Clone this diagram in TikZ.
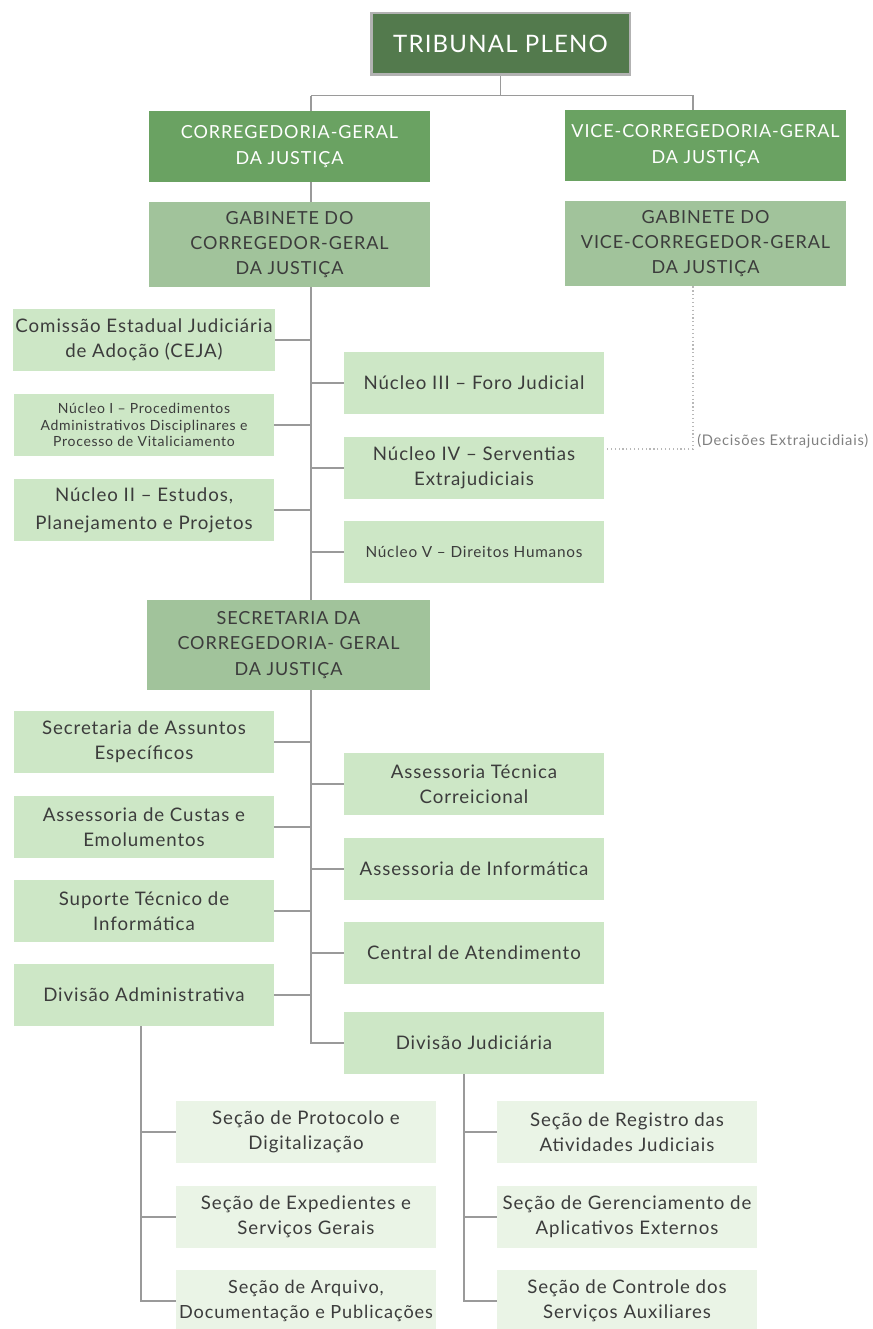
\documentclass[tikz,border=0pt]{standalone}
\usepackage{fontspec}
\setmainfont{Lato}[LetterSpace=5]
\usetikzlibrary{backgrounds}
\definecolor{cdark}{HTML}{537A4D}
\definecolor{cmid}{HTML}{6AA262}
\definecolor{cgab}{HTML}{A1C39B}
\definecolor{clight}{HTML}{CDE7C6}
\definecolor{cpale}{HTML}{EAF4E6}
\definecolor{ctext}{HTML}{3C3C3C}
\definecolor{cline}{HTML}{9A9A9A}
\tikzset{
  every node/.style={inner sep=2pt, text=ctext},
  hbox/.style={fill=cmid, text=white, minimum width=210.75pt, minimum height=53pt, align=center, font=\fontsize{13.5}{19}\selectfont},
  gbox/.style={fill=cgab, text=ctext, minimum width=210.75pt, minimum height=64pt, align=center, font=\fontsize{13.5}{19}\selectfont},
  lbox/.style={fill=clight, minimum width=195pt, minimum height=46.5pt, align=center, font=\fontsize{14}{19}\selectfont},
  pbox/.style={fill=cpale, minimum width=195pt, minimum height=46.5pt, inner xsep=0pt, align=center, font=\fontsize{14}{19}\selectfont},
  conn/.style={draw=cline, line width=0.9pt},
  dotconn/.style={draw=cline!70, line width=0.9pt, dotted}
}
\begin{document}
\begin{tikzpicture}[x=0.75pt, y=-0.75pt]
\useasboundingbox (0,0) rectangle (872,1329);
% top
\node[fill=cdark, draw=black!30, line width=2pt, minimum width=194pt, minimum height=46pt, text=white, font=\fontsize{18}{22}\selectfont] (tp) at (500.5,43.5) {TRIBUNAL PLENO};
\node[hbox] (cg) at (289.5,146.5) {CORREGEDORIA-GERAL\\DA JUSTIÇA};
\node[hbox] (vcg) at (705.5,145.5) {VICE-CORREGEDORIA-GERAL\\DA JUSTIÇA};
\node[gbox] (gcg) at (289.5,244.5) {GABINETE DO\\CORREGEDOR-GERAL\\DA JUSTIÇA};
\node[gbox] (gvc) at (705.5,243.5) {GABINETE DO\\VICE-CORREGEDOR-GERAL\\DA JUSTIÇA};
% nucleos
\node[lbox] (ceja) at (144,340) {Comissão Estadual Judiciária\\de Adoção (CEJA)};
\node[lbox, font=\fontsize{10.5}{12.4}\selectfont] (n1) at (144,425) {Núcleo I – Procedimentos\\Administrativos Disciplinares e\\Processo de Vitaliciamento};
\node[lbox, font=\fontsize{14}{21}\selectfont] (n2) at (144,510) {Núcleo II – Estudos,\\Planejamento e Projetos};
\node[lbox] (n3) at (474,383) {Núcleo III – Foro Judicial};
\node[lbox] (n4) at (474,468) {Núcleo IV – Serventias\\Extrajudiciais};
\node[lbox, font=\fontsize{11.5}{14}\selectfont] (n5) at (474,552) {Núcleo V – Direitos Humanos};
\node[anchor=west, text=black!50, font=\fontsize{11}{12}\selectfont, inner sep=0pt] (dec) at (697,441) {(Decisões Extrajucidiais)};
% secretaria
\node[fill=cgab, minimum width=212.25pt, minimum height=67.5pt, align=center, font=\fontsize{13.5}{19}\selectfont] (sec) at (288.5,645) {SECRETARIA DA\\CORREGEDORIA- GERAL\\DA JUSTIÇA};
\node[lbox] (sae) at (144,742) {Secretaria de Assuntos\\Específicos};
\node[lbox] (ace) at (144,827) {Assessoria de Custas e\\Emolumentos};
\node[lbox] (sti) at (144,911) {Suporte Técnico de\\Informática};
\node[lbox] (da) at (144,995) {Divisão Administrativa};
\node[lbox] (atc) at (474,784) {Assessoria Técnica\\Correicional};
\node[lbox] (ai) at (474,869) {Assessoria de Informática};
\node[lbox] (ca) at (474,953) {Central de Atendimento};
\node[lbox] (dj) at (474,1043) {Divisão Judiciária};
% secoes
\node[pbox] (sp) at (306,1132) {Seção de Protocolo e\\Digitalização};
\node[pbox] (se) at (306,1217) {Seção de Expedientes e\\Serviços Gerais};
\node[pbox, font=\fontsize{13.6}{19}\selectfont] (sa) at (306,1301) {Seção de Arquivo,\\Documentação e Publicações};
\node[pbox] (sr) at (627,1132) {Seção de Registro das\\Atividades Judiciais};
\node[pbox] (sg) at (627,1217) {Seção de Gerenciamento de\\Aplicativos Externos};
\node[pbox] (sc) at (627,1301) {Seção de Controle dos\\Serviços Auxiliares};
\coordinate (tr) at (311,0);
\coordinate (rt) at (693,0);
\coordinate (la) at (141,0);
\coordinate (lj) at (464,0);
\begin{pgfonlayer}{background}
\draw[conn] (tp.south) -- ++(0,20) coordinate (j);
\draw[conn] (j -| tr) -- (j -| rt) -- (vcg.north -| rt);
\draw[conn] (j -| tr) -- (tr |- dj.west) -- (dj.west);
\foreach \n in {ceja,n1,n2,sae,ace,sti,da} \draw[conn] (\n.east) -- (tr |- \n.east);
\foreach \n in {n3,n4,n5,atc,ai,ca} \draw[conn] (\n.west) -- (tr |- \n.west);
\draw[dotconn] (gvc.south -| rt) -- (rt |- 0,449) -- (n4.east |- 0,449);
\draw[conn] (la |- da.south) -- (la |- sa.west) -- (sa.west);
\draw[conn] (la |- sp.west) -- (sp.west);
\draw[conn] (la |- se.west) -- (se.west);
\draw[conn] (lj |- dj.south) -- (lj |- sc.west) -- (sc.west);
\draw[conn] (lj |- sr.west) -- (sr.west);
\draw[conn] (lj |- sg.west) -- (sg.west);
\end{pgfonlayer}
\end{tikzpicture}
\end{document}
